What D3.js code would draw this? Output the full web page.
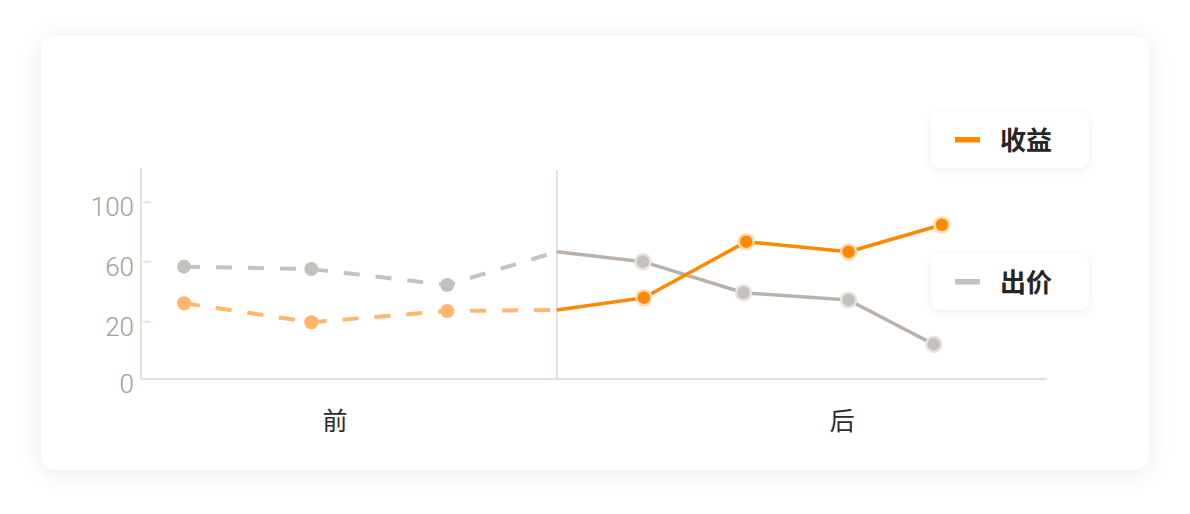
<!DOCTYPE html>
<meta charset="utf-8">
<style>
body {
  margin: 0;
  background: #fff;
}
.card {
  position: absolute;
  left: 41px;
  top: 36px;
  width: 1108px;
  height: 434px;
  background: #fff;
  border-radius: 14px;
  box-shadow: 0 3px 26px rgba(0, 0, 0, 0.09);
}
svg {
  position: absolute;
  left: 0;
  top: 0;
}
.axis-label {
  font: 300 26px Roboto, sans-serif;
  fill: #a29e9b;
  text-anchor: end;
}
.cat-label {
  font: 400 25px "Noto Sans CJK SC", sans-serif;
  fill: #2b2b2b;
  text-anchor: middle;
}
.legend-text {
  font: 700 26px "Noto Sans CJK SC", sans-serif;
  fill: #262626;
}
</style>

<div class="card"></div>
<svg class="chart"></svg>

<script src="https://d3js.org/d3.v7.min.js"></script>
<script>

// x position of each sample (time units), y values for each series
var incomeX = [4.75, 18.8, 33.8, 45.9, 55.5, 66.8, 78.1, 88.4];
var incomeY = [32.3, 19.8, 27.1, 27.8, 36, 73.5, 66.7, 84.9];
var bidX = [4.75, 18.8, 33.8, 45.9, 55.4, 66.5, 78.1, 87.5];
var bidY = [56.7, 55.1, 44.5, 66.7, 60, 39.3, 34.5, 12.1];
// the 4th sample is the switch point between 前 and 后 (no marker)
var hasMarker = [1, 1, 1, 0, 1, 1, 1, 1];
var splitIndex = 3;

var categories = ["前", "后"];
var categoryX = [21.4, 77.4];
var yTicks = [0, 20, 60, 100];
var legendNames = ["收益", "出价"];

var width = 1190, height = 514;

var x = d3.scaleLinear()
  .domain([0, 100])
  .range([141, 1047]);

// ticks are spaced evenly, so the scale is piecewise
var y = d3.scaleLinear()
  .domain(yTicks)
  .range([379, 321.7, 261.7, 202.3]);

var chart = d3.select(".chart")
  .attr("width", width)
  .attr("height", height);

var defs = chart.append("defs");
defs.append("filter")
    .attr("id", "soft")
    .attr("x", "-20%").attr("y", "-40%")
    .attr("width", "140%").attr("height", "180%")
  .append("feDropShadow")
    .attr("dx", 0).attr("dy", 2)
    .attr("stdDeviation", 5)
    .attr("flood-color", "#000")
    .attr("flood-opacity", 0.07);

// axes
var axisColor = "#dcd6d3";

chart.append("line")
  .attr("x1", x(0)).attr("x2", x(100))
  .attr("y1", y(0)).attr("y2", y(0))
  .attr("stroke", axisColor).attr("stroke-width", 1.5);

chart.append("line")
  .attr("x1", x(0)).attr("x2", x(0))
  .attr("y1", 168).attr("y2", y(0))
  .attr("stroke", axisColor).attr("stroke-width", 1.5);

chart.append("line")
  .attr("x1", x(incomeX[splitIndex])).attr("x2", x(incomeX[splitIndex]))
  .attr("y1", 170).attr("y2", y(0))
  .attr("stroke", axisColor).attr("stroke-width", 1.5);

var yAxis = chart.append("g");
yAxis.selectAll(".tick")
    .data(yTicks.filter(d => d > 0))
  .enter().append("line")
    .attr("x1", x(0) + 2).attr("x2", x(0) + 10)
    .attr("y1", d => y(d)).attr("y2", d => y(d))
    .attr("stroke", "#e3d9d3").attr("stroke-width", 1.5);

yAxis.selectAll("text")
    .data(yTicks)
  .enter().append("text")
    .attr("class", "axis-label")
    .attr("x", x(0) - 7)
    .attr("y", d => y(d) + 14)
    .text(d => d);

chart.selectAll(".cat-label")
    .data(categories)
  .enter().append("text")
    .attr("class", "cat-label")
    .attr("x", (d, i) => x(categoryX[i]))
    .attr("y", 430)
    .text(d => d);

// series
var series = [
  {name: legendNames[1], xs: bidX, ys: bidY, solid: "#bbb1ab", dashed: "#c6c3bf",
   dot: "#c4c1bc", dotEarly: "#c4c1bc", halo: "#e6e4e1"},
  {name: legendNames[0], xs: incomeX, ys: incomeY, solid: "#ff8800", dashed: "#ffb76b",
   dot: "#ff8800", dotEarly: "#ffb56a", halo: "#ffdcb0"}
];

var line = d3.line()
  .x(d => x(d[0]))
  .y(d => y(d[1]));

series.forEach(function(s) {
  var pts = s.xs.map((v, i) => [v, s.ys[i]]);

  chart.append("path")
    .attr("d", line(pts.slice(0, splitIndex + 1)))
    .attr("fill", "none")
    .attr("stroke", s.dashed)
    .attr("stroke-width", 4)
    .attr("stroke-dasharray", "16 16");

  chart.append("path")
    .attr("d", line(pts.slice(splitIndex)))
    .attr("fill", "none")
    .attr("stroke", s.solid)
    .attr("stroke-width", 3.5)
    .attr("stroke-linejoin", "round");
});

series.forEach(function(s) {
  var pts = s.xs.map((v, i) => ({x: v, y: s.ys[i], i: i}))
    .filter(d => hasMarker[d.i]);

  chart.append("g").selectAll("circle")
      .data(pts)
    .enter().append("circle")
      .attr("cx", d => x(d.x))
      .attr("cy", d => y(d.y))
      .attr("r", d => d.i > splitIndex ? 7.5 : 7)
      .attr("fill", d => d.i > splitIndex ? s.dot : s.dotEarly)
      .attr("stroke", d => d.i > splitIndex ? s.halo : "none")
      .attr("stroke-width", 2.5);
});

// legend
var legendColors = ["#ff8800", "#c4c1bc"];
var legend = chart.selectAll(".legend")
    .data(legendNames)
  .enter().append("g")
    .attr("class", "legend")
    .attr("transform", (d, i) => `translate(931, ${112 + i * 142})`);

legend.append("rect")
  .attr("width", 158)
  .attr("height", 56)
  .attr("rx", 9)
  .attr("fill", "#fff")
  .attr("filter", "url(#soft)");

legend.append("rect")
  .attr("x", 24).attr("y", 25)
  .attr("width", 25).attr("height", 5.5)
  .attr("fill", (d, i) => legendColors[i]);

legend.append("text")
  .attr("class", "legend-text")
  .attr("x", 69)
  .attr("y", 38)
  .text(d => d);

</script>
